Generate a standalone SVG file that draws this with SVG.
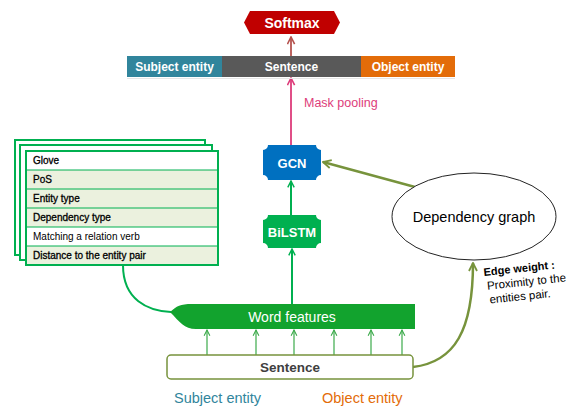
<svg xmlns="http://www.w3.org/2000/svg" width="570" height="410" viewBox="0 0 570 410">
<style>
text{font-family:"Liberation Sans",Arial,sans-serif}
.w{fill:#fff;font-weight:bold;text-anchor:middle}
.card{fill:#fff;stroke:#00B050;stroke-width:2}
.row{stroke:#00B050;stroke-width:1}
.ft{font-size:10px;fill:#000;stroke:#000;stroke-width:0.3}
.g{fill:none;stroke:#00B050;stroke-width:2}
.ol{fill:none;stroke:#77933C;stroke-width:2.5}
.sm{fill:none;stroke:#3BAA4A;stroke-width:1.2}
</style>
<defs>
<marker id="aG" viewBox="0 0 10 10" refX="9" refY="5" markerWidth="4" markerHeight="4" orient="auto" markerUnits="strokeWidth"><path d="M1,1 L9,5 L1,9" fill="none" stroke="#00B050" stroke-width="1.8"/></marker>
<marker id="aS" viewBox="0 0 10 10" refX="9" refY="5" markerWidth="6" markerHeight="6" orient="auto" markerUnits="strokeWidth"><path d="M1,1 L9,5 L1,9" fill="none" stroke="#3BAA4A" stroke-width="1.5"/></marker>
<marker id="aO" viewBox="0 0 10 10" refX="9" refY="5" markerWidth="4" markerHeight="4" orient="auto" markerUnits="strokeWidth"><path d="M1,1 L9,5 L1,9" fill="none" stroke="#77933C" stroke-width="1.8"/></marker>
<marker id="aP" viewBox="0 0 10 10" refX="9" refY="5" markerWidth="5" markerHeight="5" orient="auto" markerUnits="strokeWidth"><path d="M1,1 L9,5 L1,9" fill="none" stroke="#DD3C7A" stroke-width="1.8"/></marker>
<marker id="aR" viewBox="0 0 10 10" refX="9" refY="5" markerWidth="5" markerHeight="5" orient="auto" markerUnits="strokeWidth"><path d="M1,1 L9,5 L1,9" fill="none" stroke="#B5534F" stroke-width="1.8"/></marker>
</defs>

<g id="connectors">
<line x1="291" y1="56" x2="291" y2="37" stroke="#B5534F" stroke-width="1.8" marker-end="url(#aR)"/>
<line x1="291" y1="145" x2="291" y2="78" stroke="#DD3C7A" stroke-width="1.8" marker-end="url(#aP)"/>
<line x1="291" y1="215" x2="291" y2="181" class="g" marker-end="url(#aG)"/>
<line x1="292" y1="304" x2="292" y2="249" class="g" marker-end="url(#aG)"/>
<path d="M415,187 L323,162" class="ol" marker-end="url(#aO)"/>
<path d="M123,265 C123,300 148,311 171,312" class="g"/>
<path d="M413,367 C455,362 473,330 473,263" class="ol" marker-end="url(#aO)"/>
<line x1="207" y1="355" x2="207" y2="330" class="sm" marker-end="url(#aS)"/>
<line x1="256" y1="355" x2="256" y2="330" class="sm" marker-end="url(#aS)"/>
<line x1="294" y1="355" x2="294" y2="330" class="sm" marker-end="url(#aS)"/>
<line x1="334" y1="355" x2="334" y2="330" class="sm" marker-end="url(#aS)"/>
<line x1="371" y1="355" x2="371" y2="330" class="sm" marker-end="url(#aS)"/>
<line x1="402" y1="355" x2="402" y2="330" class="sm" marker-end="url(#aS)"/>
</g>

<g id="softmax">
<polygon points="244,22.5 250,11 334,11 340,22.5 334,34 250,34" fill="#C00000"/>
<text x="292" y="27.5" class="w" font-size="14">Softmax</text>
</g>

<g id="output-bar">
<rect x="127" y="56" width="95" height="21" fill="#31859C"/>
<rect x="222" y="56" width="139" height="21" fill="#595959"/>
<rect x="361" y="56" width="94" height="21" fill="#E36C09"/>
<line x1="127" y1="78.5" x2="455" y2="78.5" stroke="#e6e6e6" stroke-width="1"/>
<text x="174.5" y="71" class="w" font-size="12">Subject entity</text>
<text x="291.5" y="71" class="w" font-size="12">Sentence</text>
<text x="408" y="71" class="w" font-size="12">Object entity</text>
</g>

<g id="mask-pooling">
<text x="304" y="107" font-size="12.5" fill="#DD3C7A">Mask pooling</text>
</g>

<g id="gcn">
<path d="M268,145 H316 A5,5 0 0 0 321,150 V175 A5,5 0 0 0 316,180 H268 A5,5 0 0 0 263,175 V150 A5,5 0 0 0 268,145 Z" fill="#0070C0"/>
<text x="292" y="167.5" class="w" font-size="13">GCN</text>
</g>

<g id="bilstm">
<path d="M268,215 H316 A5,5 0 0 0 321,220 V243 A5,5 0 0 0 316,248 H268 A5,5 0 0 0 263,243 V220 A5,5 0 0 0 268,215 Z" fill="#00B050"/>
<text x="292" y="236.5" class="w" font-size="13">BiLSTM</text>
</g>

<g id="dependency-graph">
<ellipse cx="474" cy="216.5" rx="82" ry="43.5" fill="#fff" stroke="#222" stroke-width="1"/>
<text x="474" y="221.5" font-size="14.5" fill="#000" text-anchor="middle">Dependency graph</text>
</g>

<g id="edge-weight" transform="rotate(-6 484 276)">
<text x="484" y="276" font-size="11" font-weight="bold" fill="#000">Edge weight :</text>
<text x="486" y="290" font-size="11.5" fill="#000">Proximity to the</text>
<text x="487" y="304" font-size="11.5" fill="#000">entities pair.</text>
</g>

<g id="features">
<rect x="15" y="140" width="190" height="115" class="card"/>
<rect x="20" y="145" width="192" height="115" class="card"/>
<rect x="26" y="151" width="192" height="19" fill="#fff"/>
<rect x="26" y="170" width="192" height="57" fill="#EBF1DE"/>
<rect x="26" y="227" width="192" height="19" fill="#fff"/>
<rect x="26" y="246" width="192" height="19" fill="#EBF1DE"/>
<line x1="26" y1="170" x2="218" y2="170" class="row"/>
<line x1="26" y1="189" x2="218" y2="189" class="row"/>
<line x1="26" y1="208" x2="218" y2="208" class="row"/>
<line x1="26" y1="227" x2="218" y2="227" class="row"/>
<line x1="26" y1="246" x2="218" y2="246" class="row"/>
<rect x="26" y="151" width="192" height="114" fill="none" stroke="#00B050" stroke-width="2"/>
<text x="33" y="164" class="ft">Glove</text>
<text x="33" y="183" class="ft">PoS</text>
<text x="33" y="202" class="ft">Entity type</text>
<text x="33" y="221" class="ft">Dependency type</text>
<text x="33" y="240" font-size="10" fill="#000">Matching a relation verb</text>
<text x="33" y="259" class="ft">Distance to the entity pair</text>
</g>

<g id="word-features">
<path d="M170,312 C177,306 180,304 192,304 H415 V329 H196 C184,329 180,322 170,312 Z" fill="#12A32E"/>
<text x="292" y="322" font-size="14" fill="#fff" text-anchor="middle">Word features</text>
</g>

<g id="sentence">
<rect x="167" y="355" width="246" height="24" rx="4" fill="#fff" stroke="#77933C" stroke-width="1.5"/>
<text x="290" y="372" font-size="13.5" font-weight="bold" fill="#404040" text-anchor="middle">Sentence</text>
</g>

<g id="labels">
<text x="174" y="403" font-size="14.5" fill="#31859C">Subject entity</text>
<text x="322" y="403" font-size="14.5" fill="#E36C09">Object entity</text>
</g>
</svg>
